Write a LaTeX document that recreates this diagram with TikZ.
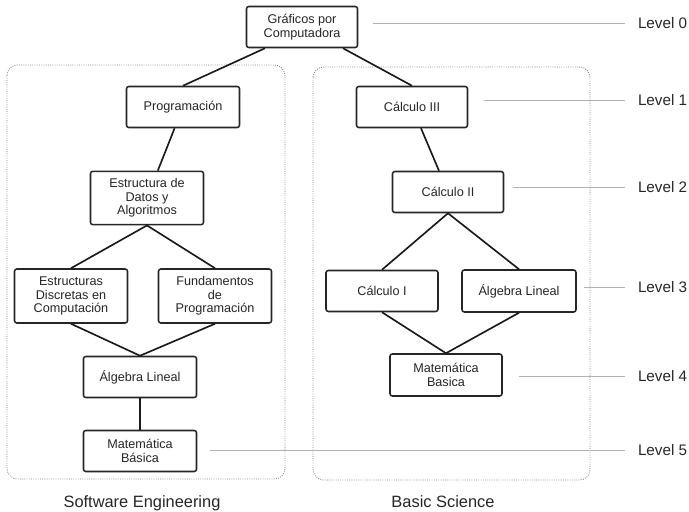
\documentclass[tikz,border=0pt]{standalone}
\usepackage{fontspec}
\setmainfont{Liberation Sans}

\begin{document}
\begin{tikzpicture}[
    x=0.03cm, y=-0.03cm,
    course/.style={rectangle, draw=black!85, line width=1.3pt, fill=white, text=black!85, align=center, rounded corners=2pt, minimum width=3.39cm, minimum height=1.23cm, inner sep=1pt, font=\fontsize{10.8}{11.6}\selectfont},
    group/.style={draw=black!50, line width=0.8pt, dash pattern=on 0.7pt off 1.2pt, rounded corners=9pt},
    edge/.style={draw=black!90, line width=1.4pt},
    level/.style={draw=black!30, line width=0.6pt},
    levellabel/.style={anchor=west, inner sep=0pt, outer sep=0.39cm, text=black!85, font=\fontsize{13}{15}\selectfont},
    grouplabel/.style={anchor=base, inner sep=0pt, text=black!85, font=\fontsize{14}{16}\selectfont}
]
\useasboundingbox (0,0) rectangle (689,512);

% Groups
\draw[group] (7,65) rectangle (285,479);
\draw[group] (313,67) rectangle (590,480);
\node[grouplabel] (se) at (142,507) {Software Engineering};
\node[grouplabel] (bs) at (443,507) {Basic Science};

% Root course
\node[course, minimum width=3.33cm] (gc) at (302,27) {Gr\'aficos por\\Computadora};

% Software Engineering courses
\node[course] (prog) at (183,107) {Programaci\'on};
\node[course, minimum height=1.6cm] (eda) at (147,198) {Estructura de\\Datos y\\Algoritmos};
\node[course, minimum height=1.62cm] (edc) at (71,296) {Estructuras\\Discretas en\\Computaci\'on};
\node[course, minimum height=1.62cm] (fp) at (215,296) {Fundamentos\\de\\Programaci\'on};
\node[course] (al1) at (140,377) {\'Algebra Lineal};
\node[course] (mb1) at (140,451) {Matem\'atica\\B\'asica};

% Basic Science courses
\node[course, minimum width=3.33cm] (c3) at (412,107) {C\'alculo III};
\node[course, minimum width=3.33cm] (c2) at (448,192) {C\'alculo II};
\node[course, minimum width=3.36cm] (c1) at (382,291) {C\'alculo I};
\node[course, minimum width=3.42cm, minimum height=1.26cm] (al2) at (519,291) {\'Algebra Lineal};
\node[course, minimum width=3.36cm, minimum height=1.26cm] (mb2) at (446,375) {Matem\'atica\\Basica};

% Levels
\node[levellabel] (lv0) at (625,23) {Level 0};
\node[levellabel] (lv1) at (625,100) {Level 1};
\node[levellabel] (lv2) at (625,187) {Level 2};
\node[levellabel] (lv3) at (625,287) {Level 3};
\node[levellabel] (lv4) at (625,376) {Level 4};
\node[levellabel] (lv5) at (625,450) {Level 5};

\draw[level] ([xshift=0.45cm]gc.east |- lv0.west) -- (lv0.west);
\draw[level] ([xshift=0.48cm]c3.east |- lv1.west) -- (lv1.west);
\draw[level] ([xshift=0.27cm]c2.east |- lv2.west) -- (lv2.west);
\draw[level] ([xshift=0.21cm]al2.east |- lv3.west) -- (lv3.west);
\draw[level] ([xshift=0.48cm]mb2.east |- lv4.west) -- (lv4.west);
\draw[level] ([xshift=0.39cm]mb1.east |- lv5.west) -- (lv5.west);

% Prerequisites
\draw[edge] ([xshift=-1.11cm]gc.south) -- (prog.north);
\draw[edge] ([xshift=1.23cm]gc.south) -- (c3.north);
\draw[edge] (prog) -- (eda);
\draw[edge] (eda.south) -- (edc.north);
\draw[edge] (eda.south) -- (fp.north);
\draw[edge] (edc.south) -- (al1.north);
\draw[edge] (fp.south) -- (al1.north);
\draw[edge] (al1) -- (mb1);
\draw[edge] (c3) -- (c2);
\draw[edge] (c2.south) -- (c1.north);
\draw[edge] (c2.south) -- (al2.north);
\draw[edge] (c1.south) -- (mb2.north);
\draw[edge] (al2.south) -- (mb2.north);

\end{tikzpicture}
\end{document}
